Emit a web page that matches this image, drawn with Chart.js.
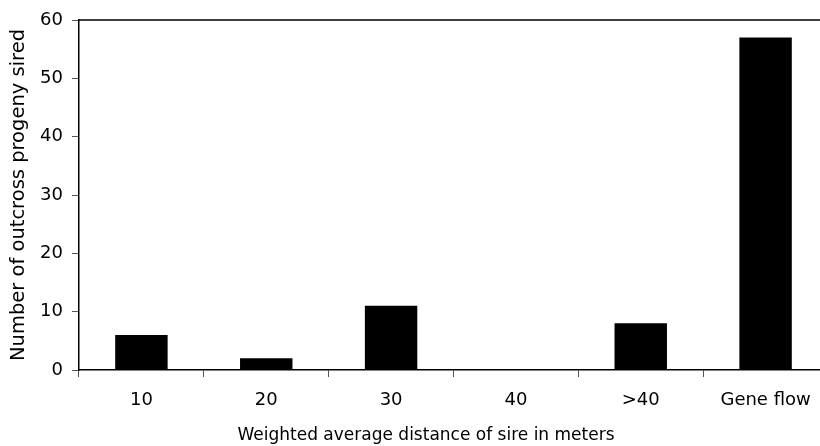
<!DOCTYPE html>
<html>
<head>
<meta charset="utf-8">
<script src="https://cdn.jsdelivr.net/npm/chart.js@4/dist/chart.umd.min.js"></script>
<style>
  html, body { margin: 0; padding: 0; background: #fff; overflow: hidden; }
  #wrap { width: 820px; height: 446px; overflow: hidden; }
</style>
</head>
<body>
<div id="wrap"><canvas id="c" width="850" height="446"></canvas></div>
<script>
/* ── Données ─────────────────────────────────────────── */
const categories = ['10', '20', '30', '40', '>40', 'Gene flow'];
const progeny    = [6, 2, 11, 0, 8, 57];
const yTicks     = [0, 10, 20, 30, 40, 50, 60];

const yTitle = 'Number of outcross progeny sired';
const xTitle = 'Weighted average distance of sire in meters';

const FONT = 'DejaVu Sans';

// cadre haut/droite + titre de l'axe x (décalé comme sur l'original)
const framePlugin = {
  id: 'frame',
  afterDraw(chart) {
    const { ctx, chartArea: a } = chart;
    ctx.save();
    ctx.strokeStyle = '#000';
    ctx.lineWidth = 1.5;
    ctx.beginPath();
    ctx.moveTo(a.left, a.top);
    ctx.lineTo(a.right, a.top);
    ctx.lineTo(a.right, a.bottom);
    ctx.stroke();
    ctx.fillStyle = '#000';
    ctx.font = `17px "${FONT}"`;
    ctx.textAlign = 'center';
    ctx.textBaseline = 'middle';
    ctx.fillText(xTitle, 426, 436);
    ctx.restore();
  }
};

new Chart(document.getElementById('c'), {
  type: 'bar',
  data: {
    labels: categories,
    datasets: [{
      data: progeny,
      backgroundColor: '#000',
      borderWidth: 0,
      barPercentage: 0.42,
      categoryPercentage: 1,
    }]
  },
  options: {
    responsive: false,
    animation: false,
    layout: { padding: { left: 0, top: 20, right: 22, bottom: 0 } },
    plugins: { legend: { display: false }, tooltip: { enabled: false } },
    scales: {
      x: {
        grid: { offset: true, drawOnChartArea: false, drawTicks: true, tickLength: 7, color: '#555', lineWidth: 1 },
        border: { display: true, color: '#000', width: 1.5 },
        ticks: { color: '#000', font: { family: FONT, size: 18 }, padding: 13, maxRotation: 0 },
        afterFit: s => { s.height = 76; },
      },
      y: {
        min: 0, max: 60,
        afterBuildTicks: s => { s.ticks = yTicks.map(v => ({ value: v })); },
        grid: { drawOnChartArea: false, drawTicks: true, tickLength: 7, color: '#555', lineWidth: 1 },
        border: { display: true, color: '#000', width: 1.5 },
        ticks: { color: '#000', font: { family: FONT, size: 18 }, padding: 9 },
        title: { display: true, text: yTitle, color: '#000', font: { family: FONT, size: 19.5 }, padding: { top: 7, bottom: 0 } },
        afterFit: s => { s.width = 79; },
      }
    }
  },
  plugins: [framePlugin]
});
</script>
</body>
</html>
